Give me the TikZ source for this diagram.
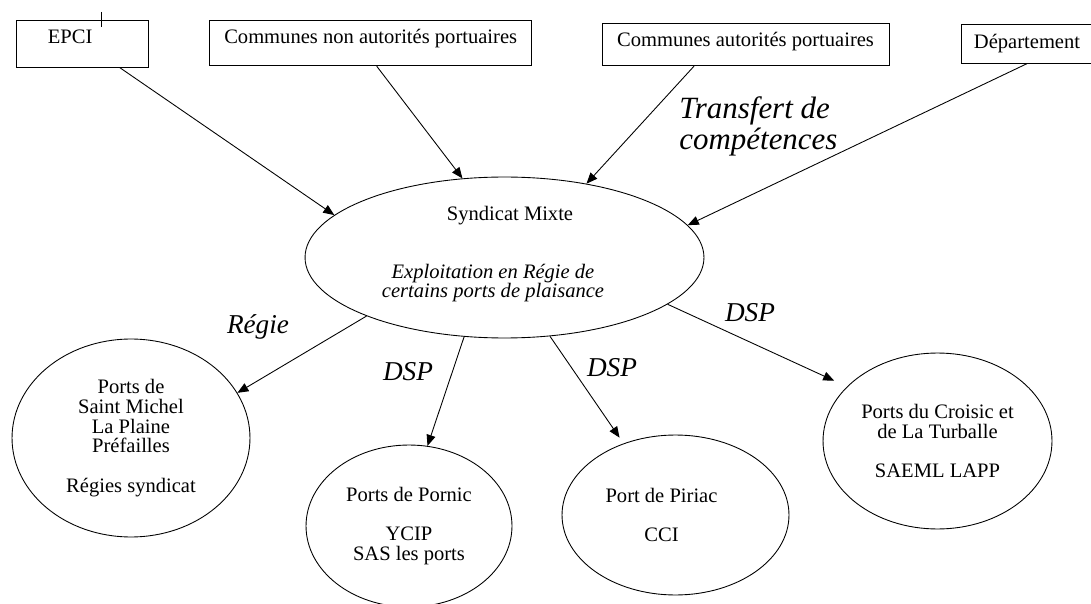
\documentclass[tikz,border=0pt]{standalone}
\usepackage{fontspec}
\setmainfont{Liberation Serif}
\usepackage{tikz}
\usetikzlibrary{shapes.geometric}
\usetikzlibrary{arrows.meta}
\tikzset{>={Triangle[length=2.2mm,width=1.8mm]}}
\tikzset{
  entity/.style={
    draw, anchor=north, inner ysep=0pt,
    text height=13.5pt, text depth=#1,
  }}
\tikzset{
  port/.style={
    draw, ellipse, inner sep=0pt, align=center,
  }}
\tikzset{
  transfer/.style={
    inner sep=0pt, font=\fontsize{15.5}{16}\selectfont\itshape,
  }}

\begin{document}
\begin{tikzpicture}[x=0.02cm,y=-0.02cm,line width=0.5pt,
    every node/.append style={font=\fontsize{11.7}{11.2}\selectfont}]
    \useasboundingbox (0,0) rectangle (1091,604);
    \clip (0,0) rectangle (1091,604);
    % members
    \node[entity=13.2pt,minimum width=2.64cm] (epci) at (82.7,19.8) {EPCI\hspace*{0.5cm}};
    \node[entity=12.4pt,minimum width=6.44cm] (cnp) at (370.7,19.8) {Communes non autorités portuaires};
    \node[entity=10.8pt,minimum width=5.74cm] (cap) at (745.5,22.6) {Communes autorités portuaires};
    \node[entity=8.4pt,minimum width=2.64cm] (dep) at (1027,24.3) {Département};
    \draw (101.5,12) -- (101.5,27);
    % syndicat
    \node[port,minimum width=7.98cm,minimum height=3.22cm] (syn) at (504.5,257.5) {};
    \node (synT) at (510,216) {Syndicat Mixte};
    \node[align=center,font=\fontsize{11.7}{10.8}\selectfont\itshape] (synE) at (493,283)
        {Exploitation en Régie de\\certains ports de plaisance};
    \node[transfer,font=\fontsize{17.6}{18}\selectfont\itshape,anchor=west,align=left] (tdc)
        at (679,126.5) {Transfert de\\compétences};
    \draw[->] ([xshift=0.74cm]epci.south) -- (syn.166.5);
    \draw[->] ([xshift=0.12cm]cnp.south) -- (syn.118.4);
    \draw[->] ([xshift=-1.03cm]cap.south) -- (syn.42.9);
    \draw[->] (dep.south) -- (syn.10.4);
    % ports
    \node[port,minimum width=4.76cm,minimum height=3.96cm] (reg) at (131,438)
        {Ports de\\Saint Michel\\La Plaine\\Préfailles\\[11.2pt]Régies syndicat};
    \node[port,minimum width=4.12cm,minimum height=3.24cm] (por) at (409,526)
        {Ports de Pornic\\[11.2pt]YCIP\\SAS les ports};
    \node[port,minimum width=4.54cm,minimum height=3.2cm] (pir) at (675.5,515)
        {Port de Piriac\hspace*{0.56cm}\\[11.2pt]CCI\hspace*{0.56cm}};
    \node[port,minimum width=4.58cm,minimum height=3.52cm] (cro) at (937.5,441)
        {Ports du Croisic et\\de La Turballe\\[11.2pt]SAEML LAPP};
    \draw[->] (syn.203.9) -- (reg.23);
    \draw[->] (syn.243.4) -- (por.77.5);
    \draw[->,shorten >=0.14cm] (syn.300.1) -- (pir.126.9);
    \draw[->,shorten >=0.28cm] (syn.344.5) -- (cro.149.2);
    \node[transfer] (regie) at (258,327) {Régie};
    \node[transfer] (dsp1) at (408,372) {DSP};
    \node[transfer] (dsp2) at (612,368) {DSP};
    \node[transfer] (dsp3) at (750,313) {DSP};
\end{tikzpicture}
\end{document}
